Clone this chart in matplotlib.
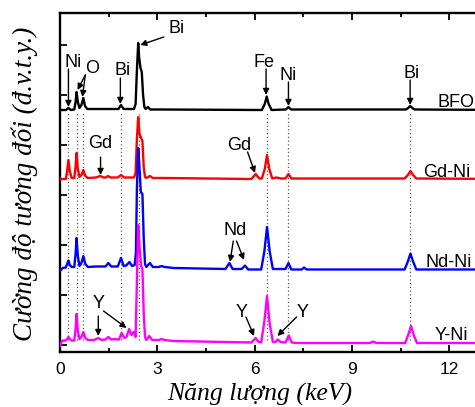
import matplotlib
matplotlib.use("Agg")
import matplotlib.pyplot as plt
from matplotlib.ticker import MultipleLocator, FixedLocator

plt.rcParams['font.family'] = ['Liberation Sans', 'DejaVu Sans']

# ---------------- data (energy keV, intensity above each baseline, arb. units) -------------
series_names = ["BFO", "Gd-Ni", "Nd-Ni", "Y-Ni"]

bfo_kev = [0.00, 0.18, 0.26, 0.33, 0.44, 0.48, 0.51, 0.55, 0.60, 0.66, 0.72, 0.77, 0.84, 1.20, 1.50,
           1.80, 1.88, 1.96, 2.28, 2.33, 2.37, 2.41, 2.44, 2.48, 2.52, 2.56, 2.60, 2.64, 2.71, 2.78,
           3.10, 6.22, 6.31, 6.37, 6.43, 6.52, 6.96, 7.04, 7.12, 10.66, 10.73, 10.79, 10.86, 10.93, 14.0]
bfo_cts = [0, 0, 2, 0, 0.5, 8, 18, 8, 2, 5, 12, 4, 1, 1, 1,
           1, 5, 1, 1, 6, 40, 67, 52, 42, 38, 15, 3, 1, 3, 0.5,
           0.5, 0, 6, 13.5, 6, 0, 0.5, 3, 0.5, 0.5, 2, 4, 2, 0.5, 0]

gd_kev = [0.00, 0.18, 0.22, 0.26, 0.30, 0.36, 0.44, 0.48, 0.51, 0.55, 0.60, 0.66, 0.72, 0.78, 0.86,
          1.10, 1.24, 1.34, 1.42, 1.48, 1.56, 1.78, 1.88, 1.98, 2.28, 2.33, 2.37, 2.41, 2.45, 2.50,
          2.54, 2.58, 2.62, 2.66, 2.77, 2.86, 3.20, 5.90, 6.03, 6.14, 6.22, 6.31, 6.38, 6.45, 6.54,
          6.68, 6.80, 6.95, 7.04, 7.13, 10.62, 10.72, 10.80, 10.88, 10.98, 14.0]
gd_cts = [0, 0, 8, 19, 8, 1, 1, 12, 26, 10, 2, 4, 9, 3, 1,
          1.5, 3, 1.5, 1.5, 3, 1.5, 1.5, 4, 1.5, 1.5, 6, 40, 62, 45, 41,
          38, 12, 2, 1, 3, 1, 1, 0, 5, 0.5, 0.5, 10, 24, 10, 0.5,
          1.5, 0.5, 0.5, 5, 0.5, 0.5, 4, 8, 4, 0.5, 0]

nd_kev = [0.00, 0.08, 0.18, 0.22, 0.26, 0.30, 0.36, 0.44, 0.48, 0.51, 0.55, 0.60, 0.66, 0.72, 0.78,
          0.86, 1.10, 1.40, 1.49, 1.58, 1.78, 1.88, 1.96, 2.04, 2.14, 2.22, 2.30, 2.34, 2.37, 2.41,
          2.45, 2.49, 2.54, 2.58, 2.62, 2.66, 2.77, 2.86, 3.05, 3.13, 3.22, 3.50, 5.10, 5.22, 5.32,
          5.60, 5.70, 5.80, 6.20, 6.30, 6.38, 6.46, 6.56, 6.95, 7.04, 7.13, 7.45, 7.52, 7.60, 10.62,
          10.72, 10.80, 10.88, 10.98, 14.0]
nd_cts = [-3, 0, 0.5, 4, 7.5, 3, 1, 1, 14, 30, 12, 2, 5, 12, 4,
          1, 1.5, 1.5, 5, 1.5, 1.5, 10, 2, 2.5, 6, 2, 3, 15, 80, 120,
          100, 76, 74, 30, 4, 1, 5, 1, 1, 2, 1, 0, -1, 5, -1,
          -1, 2.5, -1.5, -1.5, 17, 41, 17, -1, -1, 5, -1.5, -1.5, 0.5, -1.5, -1.5,
          6.5, 14.5, 6.5, -1.5, -1.5]

y_kev = [0.00, 0.06, 0.12, 0.18, 0.22, 0.26, 0.30, 0.36, 0.44, 0.48, 0.51, 0.55, 0.60, 0.66, 0.72,
         0.78, 0.86, 1.05, 1.18, 1.28, 1.40, 1.49, 1.58, 1.69, 1.76, 1.82, 1.90, 1.98, 2.05, 2.13,
         2.20, 2.27, 2.33, 2.37, 2.41, 2.45, 2.50, 2.54, 2.58, 2.62, 2.66, 2.75, 2.84, 3.05, 3.13,
         3.22, 3.50, 5.90, 6.03, 6.12, 6.20, 6.30, 6.38, 6.46, 6.56, 6.64, 6.71, 6.80, 6.95, 7.05,
         7.14, 7.30, 9.55, 9.65, 9.75, 10.64, 10.74, 10.82, 10.90, 11.00, 14.0]
y_cts = [-5, 0, 0.5, 0.5, 2, 4, 2, 0.5, 0.5, 12, 27, 10, 2, 4, 9,
         3, 1, 1, 3, 1, 1.5, 4, 1.5, 2, 1.5, 1.5, 8, 3, 4, 12,
         6, 9, 4, 60, 116, 95, 75, 72, 28, 4, 1, 5, 1, 1, 2,
         1, 0, -1.5, 3, -1, -1.5, 20, 45, 18, -1, -1, 1.5, -1, -1.5, 5.5,
         -1.5, -2, -2, -0.5, -2, -2, 7, 15, 6, -2, -2]

# vertical dotted guide lines (keV)
guide_kev = [0.24, 0.51, 0.72, 1.88, 2.42, 6.38, 7.04, 10.79]

xtick_vals = [0, 3, 6, 9, 12]

# ---------------- figure ----------------
W, H = 475, 407
fig = plt.figure(figsize=(W / 100, H / 100), dpi=100)
px_per_kev = 32.45
xmax = 14.0
ax = fig.add_axes([60 / W, 55 / H, xmax * px_per_kev / W, 339 / H])
ax.set_xlim(0, xmax)
ax.set_ylim(0, 339)

offsets = [242, 173, 84, 11]
colors = ["black", "#ff0000", "#0000ff", "#ff00ff"]

for gx in guide_kev:
    ax.plot([gx, gx], [12, 240], linestyle=(0, (1, 2)), color="0.35", lw=0.9, zorder=1)

for (kev, cts), off, col in zip([(bfo_kev, bfo_cts), (gd_kev, gd_cts), (nd_kev, nd_cts), (y_kev, y_cts)],
                                offsets, colors):
    ax.plot(kev, [c + off for c in cts], color=col, lw=1.7, zorder=3, solid_joinstyle="round")

# series labels
lab_fs = 13
for name, xx, yy in zip(series_names, [11.62, 11.19, 11.25, 11.56], [245, 175, 85, 12]):
    ax.text(xx, yy, name, fontsize=lab_fs, ha="left", va="baseline", zorder=5)

# element annotations
def label(x, y, s):
    ax.text(x, y, s, fontsize=lab_fs, ha="center", va="baseline", zorder=5)

def arrow(x0, y0, x1, y1):
    ax.annotate("", xy=(x1, y1), xytext=(x0, y0),
                arrowprops=dict(arrowstyle="-|>", color="black", lw=1.0, mutation_scale=9,
                                shrinkA=0, shrinkB=0), zorder=5)

label(0.40, 285, "Ni"); arrow(0.26, 283, 0.26, 245)
label(1.00, 279, "O"); arrow(0.78, 277, 0.54, 262); arrow(0.78, 277, 0.69, 255)
label(1.92, 277, "Bi"); arrow(1.86, 274, 1.86, 248)
label(3.59, 319, "Bi"); arrow(3.20, 315, 2.47, 307)
label(6.29, 285, "Fe"); arrow(6.35, 283, 6.35, 257)
label(7.04, 272, "Ni"); arrow(7.04, 270, 7.04, 246)
label(10.83, 274, "Bi"); arrow(10.79, 272, 10.79, 247)
label(1.25, 204, "Gd"); arrow(1.25, 195, 1.25, 177)
label(5.53, 202, "Gd"); arrow(5.78, 200, 6.01, 179)
label(5.39, 117, "Nd"); arrow(5.34, 111, 5.24, 90); arrow(5.44, 111, 5.67, 92)
label(1.19, 44, "Y"); arrow(1.18, 36, 1.18, 16); arrow(1.34, 41, 2.05, 24)
label(5.59, 35, "Y"); arrow(5.73, 35, 5.98, 16)
label(7.47, 35, "Y"); arrow(7.29, 35, 6.70, 16)

# axes styling
for side in ["left", "bottom", "top"]:
    ax.spines[side].set_linewidth(1.7)
ax.spines["right"].set_visible(False)
ax.xaxis.set_major_locator(FixedLocator(xtick_vals))
ax.xaxis.set_minor_locator(MultipleLocator(1.5))
ax.yaxis.set_major_locator(FixedLocator([7, 57, 107, 157, 207, 257, 307]))
ax.tick_params(axis="x", which="both", direction="in", top=True, bottom=True, width=1.3)
ax.tick_params(axis="x", which="major", length=5, pad=7, labelsize=12.5)
ax.tick_params(axis="x", which="minor", length=3)
ax.tick_params(axis="y", which="major", direction="in", length=5, width=1.3, labelleft=False)
ax.set_xticklabels([str(v) for v in xtick_vals])

serif = ["Liberation Serif", "DejaVu Serif"]
fig.text(25 / W, 1 - 184 / H, "Cường độ tương đối (đ.v.t.y.)", rotation=90, ha="center",
         va="center", fontsize=19.5, style="italic", family=serif)
fig.text(260 / W, 0.5 / H, "Năng lượng (keV)", ha="center", va="bottom", fontsize=18.5,
         style="italic", family=serif)

fig.savefig("out.png", dpi=100)
